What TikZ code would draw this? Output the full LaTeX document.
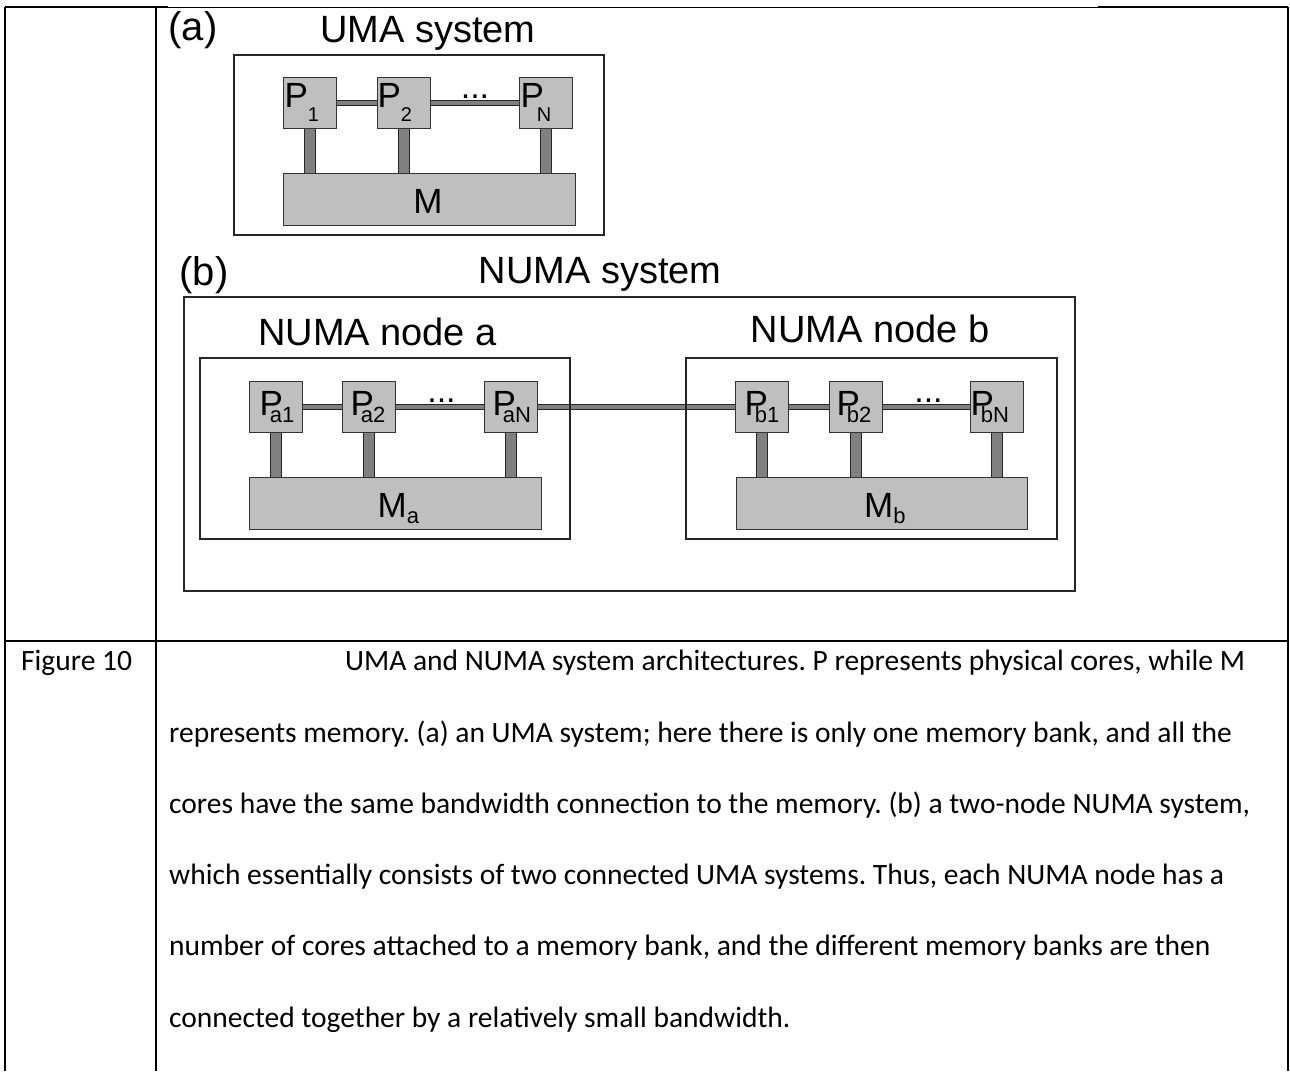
\documentclass[tikz,border=0pt]{standalone}
\usepackage{fontspec}
\setmainfont{Carlito}
\newfontfamily\dg{Liberation Sans}
\usetikzlibrary{calc,backgrounds}
\frenchspacing
\newcommand\mypsub[4]{{\dg\fontsize{35}{35}\selectfont P}\kern#2\raisebox{#3}{\dg\fontsize{#4}{#4}\selectfont #1}}
\newcommand\mymsub[1]{{\dg\fontsize{35}{35}\selectfont M}\raisebox{-6pt}{\dg\fontsize{22}{22}\selectfont #1}}
\tikzset{
  tline/.style={line width=2.2pt, black},
  framebox/.style={draw=black!85, line width=1.1pt},
  pbox/.style={draw=black!80, fill=gray!50, line width=1pt, minimum width=53pt, minimum height=51pt, inner sep=0pt},
  mbox/.style={draw=black!80, fill=gray!50, line width=1pt, minimum width=292pt, minimum height=52pt, inner sep=0pt},
  hbarout/.style={line width=6pt, black!85},
  hbarin/.style={line width=4pt, gray},
  vbarout/.style={line width=12pt, black!85},
  vbarin/.style={line width=10pt, gray},
  titletxt/.style={font=\dg\fontsize{38}{38}\selectfont, inner sep=0pt, anchor=base},
  plab/.style={inner sep=0pt, anchor=base west},
  dotstxt/.style={font=\dg\fontsize{34}{34}\selectfont, inner sep=0pt, anchor=base},
  captxt/.style={font=\fontsize{29.5}{29.5}\selectfont, inner sep=0pt, anchor=base west}
}
\begin{document}
\begin{tikzpicture}[x=1pt,y=-1pt]
\useasboundingbox (0,0) rectangle (1290,1071);
% table
\coordinate (tl) at (5,7);
\coordinate (ta) at (168,7);
\coordinate (tb) at (1098,7);
\coordinate (tr) at (1288,7);
\coordinate (bl) at (5,1071);
\coordinate (br) at (1288,1071);
\coordinate (ml) at (156,7);
\coordinate (mb) at (156,1071);
\coordinate (hl) at (5,641);
\coordinate (hr) at (1288,641);
\draw[tline] (tl) -- (ta);
\draw[line width=1pt] (ta) -- (tb);
\draw[tline] (tb) -- (tr);
\draw[tline] (tl) -- (bl);
\draw[tline] (tr) -- (br);
\draw[tline] (ml) -- (mb);
\draw[tline] (hl) -- (hr);

% ---------- UMA ----------
\node[titletxt, font=\dg\fontsize{40}{40}\selectfont] (la) at (193,40) {(a)};
\node[titletxt] (tuma) at (428,42) {UMA system};
\node[framebox, minimum width=370pt, minimum height=180pt, inner sep=0pt] (fuma) at (419,145) {};
\node[pbox] (p1) at (309.5,102.5) {};
\node[pbox] (p2) at (403.5,102.5) {};
\node[pbox] (pn) at (545.5,102.5) {};
\node[mbox] (m) at (429,199) {};
\node[inner sep=0pt, anchor=base] (ml1) at (428,213) {\dg\fontsize{35}{35}\selectfont M};
\node[plab] (l1) at (284.3,107) {\mypsub{1}{0pt}{-14pt}{20}};
\node[plab] (l2) at (377.3,107) {\mypsub{2}{0pt}{-14pt}{20}};
\node[plab] (ln) at (520.3,107) {\mypsub{N}{-7pt}{-14pt}{20}};
\node[dotstxt] (d1) at (475,98) {...};
\begin{scope}[on background layer]
\draw[hbarout] (p1) -- (p2); \draw[hbarin] (p1) -- (p2);
\draw[hbarout] (p2) -- (pn); \draw[hbarin] (p2) -- (pn);
\foreach \p in {p1,p2,pn}{
  \draw[vbarout] (\p.south) -- (\p.south |- m.north);
  \draw[vbarin] (\p.south) -- (\p.south |- m.north);
}
\end{scope}

% ---------- NUMA ----------
\node[titletxt, font=\dg\fontsize{40}{40}\selectfont] (lb) at (204,285) {(b)};
\node[titletxt] (tnuma) at (600,283) {NUMA system};
\node[framebox, minimum width=891pt, minimum height=294pt, inner sep=0pt] (fnuma) at (629.5,444) {};
\node[titletxt] (tna) at (377.5,345) {NUMA node a};
\node[titletxt] (tnb) at (870,342) {NUMA node b};
\node[framebox, minimum width=370pt, minimum height=181pt, inner sep=0pt] (fa) at (385,448.5) {};
\node[framebox, minimum width=371pt, minimum height=181pt, inner sep=0pt] (fb) at (871.5,448.5) {};

\node[pbox] (pa1) at (275.5,406.5) {};
\node[pbox] (pa2) at (369,406.5) {};
\node[pbox] (pan) at (511,406.5) {};
\node[mbox] (ma) at (395,503.5) {};
\node[pbox] (pb1) at (762,406.5) {};
\node[pbox] (pb2) at (855.5,406.5) {};
\node[pbox] (pbn) at (997,406.5) {};
\node[mbox, minimum width=291pt] (mbb) at (881.5,503.5) {};

\node[plab] (la1) at (259.3,415) {\mypsub{a1}{-13pt}{-7pt}{22}};
\node[plab] (la2) at (350.3,415) {\mypsub{a2}{-13pt}{-7pt}{22}};
\node[plab] (lan) at (492.3,415) {\mypsub{aN}{-13pt}{-7pt}{22}};
\node[plab] (lb1) at (744.3,415) {\mypsub{b1}{-13pt}{-7pt}{22}};
\node[plab] (lb2) at (836.3,415) {\mypsub{b2}{-13pt}{-7pt}{22}};
\node[plab] (lbn) at (970.3,415) {\mypsub{bN}{-13pt}{-7pt}{22}};
\node[plab] (lma) at (377.4,517) {\mymsub{a}};
\node[plab] (lmb) at (864,517) {\mymsub{b}};
\node[dotstxt] (d2) at (441.5,402) {...};
\node[dotstxt] (d3) at (928.5,402) {...};

\begin{scope}[on background layer]
\foreach \a/\b in {pa1/pa2,pa2/pan,pan/pb1,pb1/pb2,pb2/pbn}{
  \draw[hbarout] (\a) -- (\b); \draw[hbarin] (\a) -- (\b);
}
\foreach \p in {pa1,pa2,pan}{
  \draw[vbarout] (\p.south) -- (\p.south |- ma.north);
  \draw[vbarin] (\p.south) -- (\p.south |- ma.north);
}
\foreach \p in {pb1,pb2,pbn}{
  \draw[vbarout] (\p.south) -- (\p.south |- mbb.north);
  \draw[vbarin] (\p.south) -- (\p.south |- mbb.north);
}
\end{scope}

% ---------- caption ----------
\node[captxt] (fig) at (21,670) {Figure 10};
\node[captxt] (c1) at (345,670) {UMA and NUMA system architectures. P represents physical cores, while M};
\node[captxt] (c2) at (169,742) {represents memory. (a) an UMA system; here there is only one memory bank, and all the};
\node[captxt] (c3) at (169,813) {cores have the same bandwidth connection to the memory. (b) a two-node NUMA system,};
\node[captxt] (c4) at (169,884) {which essentially consists of two connected UMA systems. Thus, each NUMA node has a};
\node[captxt] (c5) at (169,955) {number of cores attached to a memory bank, and the different memory banks are then};
\node[captxt] (c6) at (169,1027) {connected together by a relatively small bandwidth.};
\end{tikzpicture}
\end{document}
